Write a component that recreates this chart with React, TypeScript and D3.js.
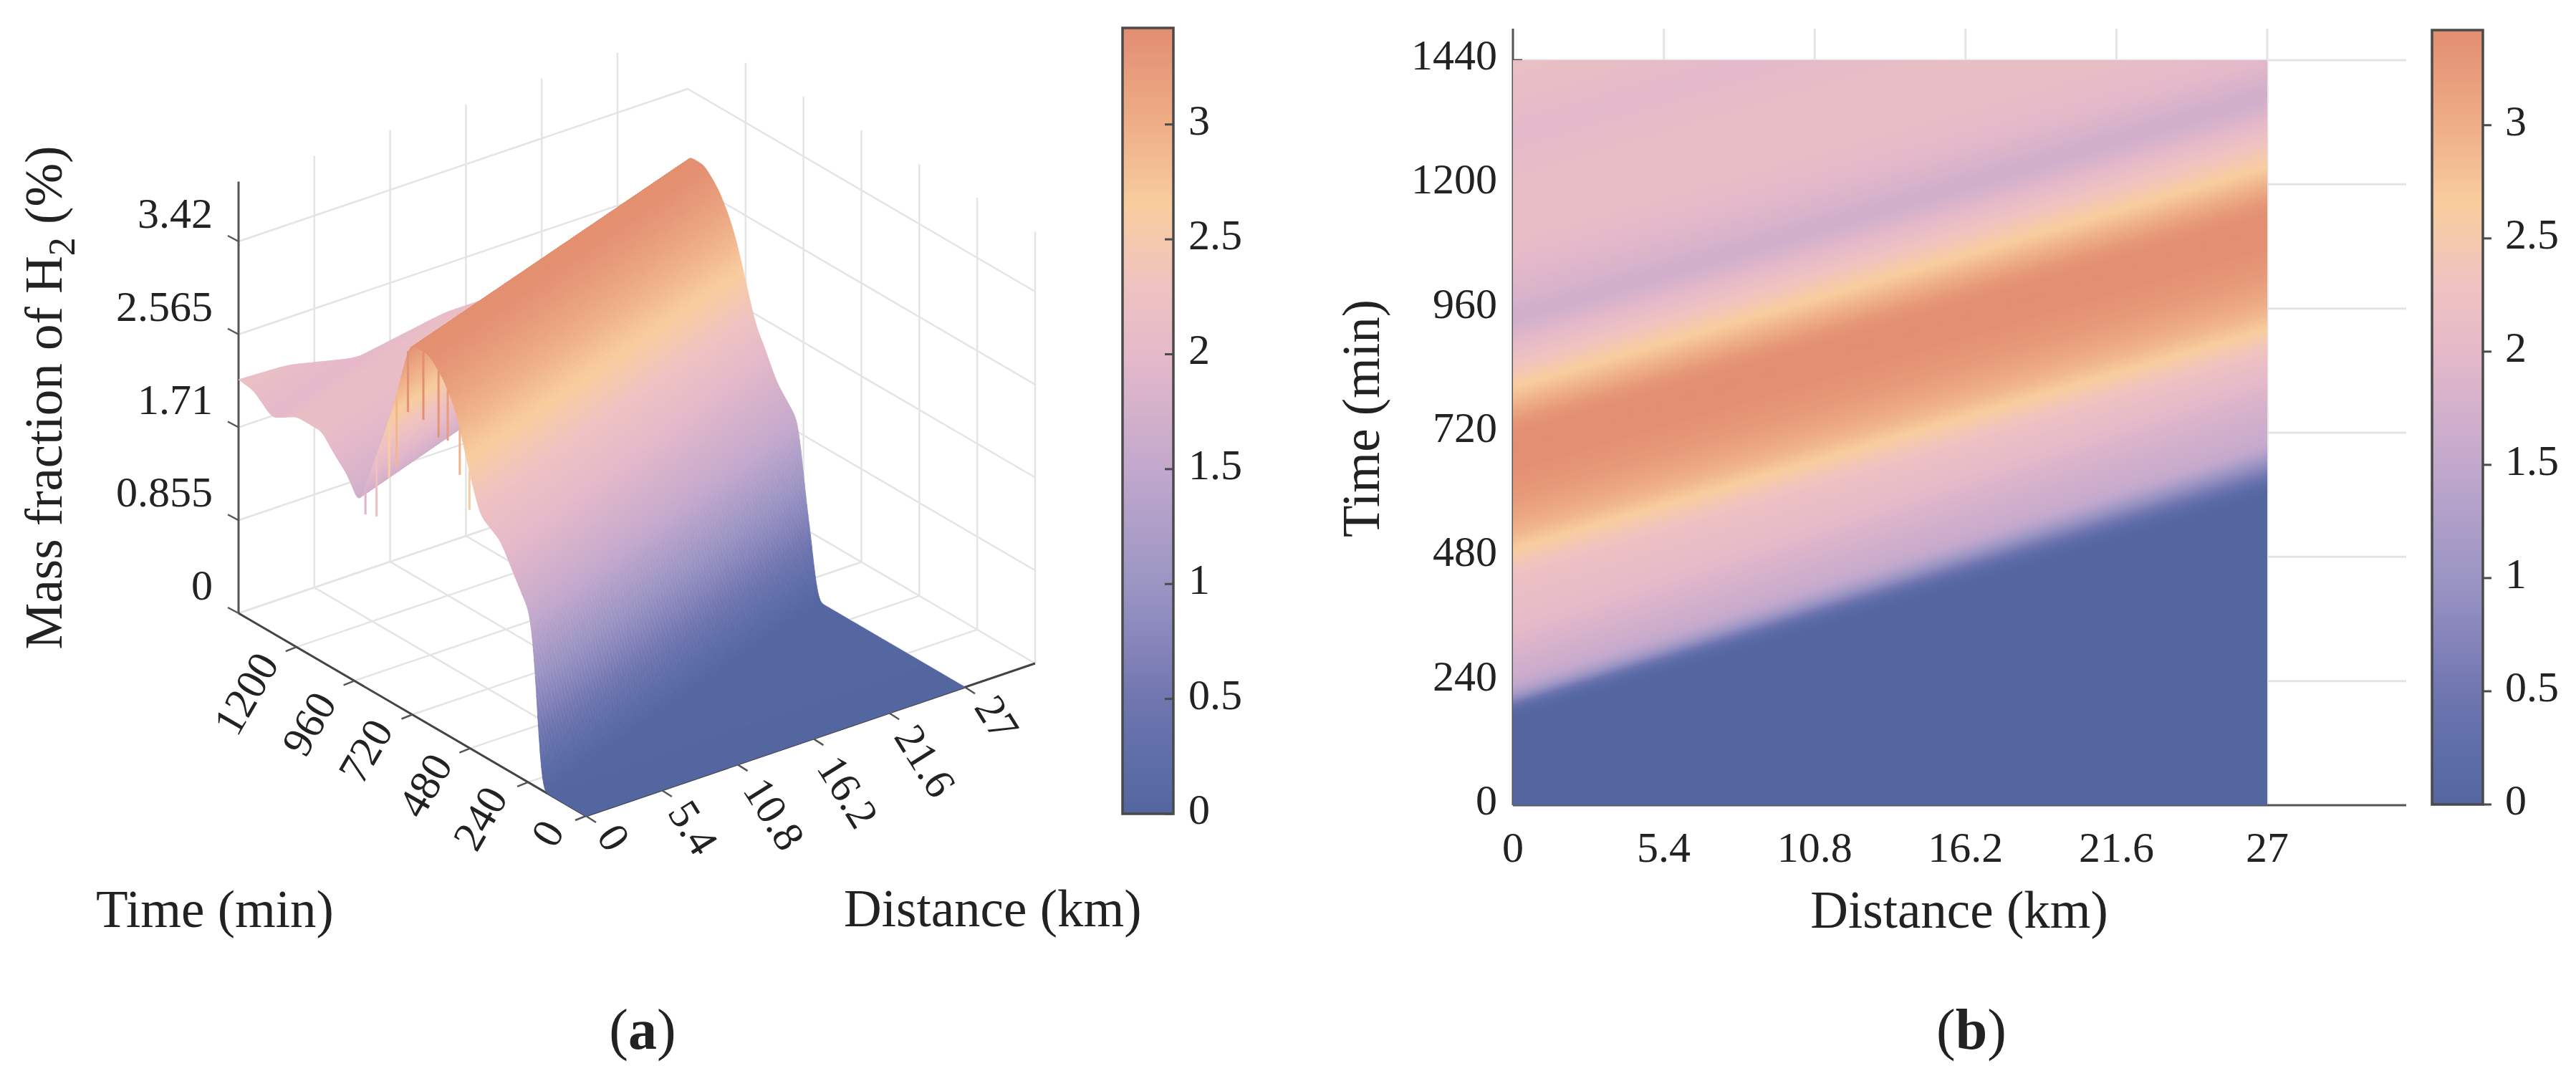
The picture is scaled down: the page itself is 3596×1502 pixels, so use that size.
import React, { useEffect, useRef } from "react";
import * as d3 from "d3";

// Axis ticks
const distanceTicks = [0, 5.4, 10.8, 16.2, 21.6, 27];
const distanceLabels = ["0", "5.4", "10.8", "16.2", "21.6", "27"];
const timeTicks3d = [0, 240, 480, 720, 960, 1200];
const timeTicks2d = [0, 240, 480, 720, 960, 1200, 1440];
const massTicks = [0, 0.855, 1.71, 2.565, 3.42];
const massLabels = ["0", "0.855", "1.71", "2.565", "3.42"];
const barTicks = [0, 0.5, 1, 1.5, 2, 2.5, 3];

// Colour bar
const colorStops = [0, 0.25, 0.5, 0.75, 1, 1.5, 2, 2.3, 2.645, 3, 3.42];
const colorHexes = ["#5466a0", "#5f6ea8", "#7076b0", "#8785bb", "#9a95c3", "#c2a8cd", "#e5b9c9", "#efc3c1", "#f8cd9e", "#eeae88", "#e28e70"];

// H2 wave: each level is reached at one time at 0 km and a later time at 27 km
const waveLevels = [0, 0.5, 1.0, 1.54, 1.8, 2.07, 2.2, 2.65, 2.88, 3.05, 3.25, 3.4, 3.4, 3.1, 2.65, 2.2, 1.9, 1.65, 1.85, 2.0, 2.12, 2.12, 1.98, 2.13, 2.15];
const waveTimeAt0km = [186, 196, 207, 226, 290, 353, 439, 497, 520, 545, 590, 650, 730, 760, 807, 867, 906, 940, 986, 1052, 1093, 1200, 1300, 1378, 1440];
const waveTimeAt27km = [612, 635, 667, 688, 782, 835, 867, 920, 948, 975, 1020, 1080, 1150, 1185, 1232, 1298, 1331, 1371, 1411, 1440, 1523, 1630, 1730, 1810, 1870];

// Numerical spikes on the 0 km edge of the surface
const spikeTimes = [914, 868, 816, 785, 738, 674, 611, 573, 523, 483];
const spikeBottoms = [1.59, 1.63, 2.05, 2.2, 2.76, 2.77, 2.69, 2.71, 2.46, 2.19];

const DIST_MAX = 27;
const TIME_MAX = 1440;
const FONT = "'Liberation Serif', serif";
const INK = "#222";
const GRID = "#e4e4e4";
const AXIS = "#555";

const color = d3.scaleLinear<string>().domain(colorStops).range(colorHexes).clamp(true);

const waveAt = (x: number) =>
  d3
    .scaleLinear()
    .domain(waveTimeAt0km.map((d, i) => d + ((waveTimeAt27km[i] - d) * x) / DIST_MAX))
    .range(waveLevels)
    .clamp(true);

// mesh shared by both panels, softened along time like the plot's interpolated shading
const meshX = d3.range(0, 109).map((i) => i * 0.25);
const meshT = d3.range(0, 289).map((i) => i * 5);
const nx = meshX.length;
const nt = meshT.length;
const flat: number[] = new Array(nx * nt);
meshX.forEach((x, i) => {
  const s = waveAt(x);
  meshT.forEach((t, j) => (flat[i + j * nx] = s(t)));
});
d3.blur2({ data: flat, width: nx, height: nt }, 0, 2);
const meshZ = (i: number, j: number) => flat[i + j * nx];

function App() {
  const ref = useRef<SVGSVGElement>(null);

  useEffect(() => {
    const svg = d3.select(ref.current);
    svg.selectAll("*").remove();

    const addText = (
      g: any,
      text: string,
      x: number,
      y: number,
      size: number,
      anchor = "start",
      rotate = 0
    ) =>
      g
        .append("text")
        .attr("transform", `translate(${x},${y}) rotate(${rotate})`)
        .attr("text-anchor", anchor)
        .attr("font-family", FONT)
        .attr("font-size", size)
        .attr("fill", INK)
        .text(text);

    const addLine = (g: any, p: number[], q: number[], stroke: string, w: number) =>
      g
        .append("line")
        .attr("x1", p[0])
        .attr("y1", p[1])
        .attr("x2", q[0])
        .attr("y2", q[1])
        .attr("stroke", stroke)
        .attr("stroke-width", w);

    // ---------- panel (a): 3D surface ----------
    const a = svg.append("g");
    const xPx = d3.scaleLinear().domain([0, 32]).range([0, 627]);
    const xPy = d3.scaleLinear().domain([0, 32]).range([0, -213]);
    const tPx = d3.scaleLinear().domain([0, 1440]).range([0, -485]);
    const tPy = d3.scaleLinear().domain([0, 1440]).range([0, -283]);
    const zPy = d3.scaleLinear().domain([0, 3.42]).range([0, -519]);
    const project = (x: number, t: number, z: number) => [
      818 + xPx(x) + tPx(t),
      1139 + xPy(x) + tPy(t) + zPy(z),
    ];
    const Z_TOP = 3.97;

    // floor and walls
    distanceTicks.forEach((x) => {
      addLine(a, project(x, 0, 0), project(x, 1440, 0), GRID, 2.5);
      if (x > 0) addLine(a, project(x, 1440, 0), project(x, 1440, Z_TOP), GRID, 2.5);
    });
    timeTicks2d.forEach((t) => {
      addLine(a, project(0, t, 0), project(32, t, 0), GRID, 2.5);
      if (t < 1440) addLine(a, project(32, t, 0), project(32, t, Z_TOP), GRID, 2.5);
    });
    massTicks.forEach((z) => {
      addLine(a, project(0, 1440, z), project(32, 1440, z), GRID, 2.5);
      addLine(a, project(32, 1440, z), project(32, 0, z), GRID, 2.5);
    });

    // axes
    addLine(a, project(0, 1440, 0), project(0, 1440, Z_TOP), AXIS, 3);
    addLine(a, project(0, 1440, 0), project(0, 0, 0), "#444", 3);
    addLine(a, project(0, 0, 0), project(32, 0, 0), "#444", 3);
    massTicks.forEach((z) => {
      const p = project(0, 1440, z);
      addLine(a, p, [p[0] - 15, p[1] - 8], AXIS, 2.5);
    });
    timeTicks3d.forEach((t) => {
      const p = project(0, t, 0);
      addLine(a, p, [p[0] - 15, p[1] + 6], AXIS, 2.5);
    });
    distanceTicks.forEach((x) => {
      const p = project(x, 0, 0);
      addLine(a, p, [p[0] + 14, p[1] + 9], AXIS, 2.5);
    });

    // surface, far corner first, quads of one colour merged into a path
    const surface = a.append("g");
    let batch = "";
    let batchColor = "";
    const flush = () => {
      if (!batch) return;
      surface
        .append("path")
        .attr("d", batch)
        .attr("fill", batchColor)
        .attr("stroke", batchColor)
        .attr("stroke-width", 0.9)
        .attr("stroke-linejoin", "round");
      batch = "";
    };
    for (let j = nt - 2; j >= 0; j--) {
      for (let i = nx - 2; i >= 0; i--) {
        const corners = [
          [i, j],
          [i + 1, j],
          [i + 1, j + 1],
          [i, j + 1],
        ];
        const zMean = d3.mean(corners, ([p, q]) => meshZ(p, q)) as number;
        const c = color(Math.round(zMean * 80) / 80);
        if (c !== batchColor) {
          flush();
          batchColor = c;
        }
        batch +=
          "M" +
          corners
            .map(([p, q]) => project(meshX[p], meshT[q], meshZ(p, q)).map((v) => v.toFixed(1)).join(","))
            .join("L") +
          "Z";
      }
    }
    flush();

    const edgeWave = waveAt(0);
    spikeTimes.forEach((t, i) => {
      const top = edgeWave(t);
      addLine(a, project(0, t, top), project(0, t, spikeBottoms[i]), color(top + 0.05), 3);
    });

    // tick labels
    massLabels.forEach((s, i) => addText(a, s, 297, project(0, 1440, massTicks[i])[1] - 19, 60, "end"));
    const timeLabelPos = [
      [764, 1163],
      [670, 1142],
      [593, 1096],
      [510, 1048],
      [431, 1010],
      [343, 968],
    ];
    timeTicks3d.forEach((t, i) =>
      addText(a, String(t), timeLabelPos[i][0], timeLabelPos[i][1], 60, "middle", -60).attr("dy", "0.34em")
    );
    const distLabelPos = [
      [857, 1169],
      [968, 1155],
      [1081, 1136],
      [1184, 1105],
      [1292, 1062],
      [1392, 1002],
    ];
    distanceLabels.forEach((s, i) =>
      addText(a, s, distLabelPos[i][0], distLabelPos[i][1], 60, "middle", 58).attr("dy", "0.34em")
    );

    // axis titles
    addText(a, "Time (min)", 134, 1294, 73);
    addText(a, "Distance (km)", 1178, 1293, 73);
    const yTitle = addText(a, "Mass fraction of H", 86, 555, 73, "middle", -90);
    yTitle.append("tspan").attr("dy", 18).attr("font-size", 52).text("2");
    yTitle.append("tspan").attr("dy", -18).text(" (%)");

    // ---------- panel (b): heat map ----------
    const b = svg.append("g");
    const x2 = d3.scaleLinear().domain([0, DIST_MAX]).range([2112, 3165]);
    const y2 = d3.scaleLinear().domain([0, TIME_MAX]).range([1124, 84]);
    const PLOT_RIGHT = 3359;
    const PLOT_TOP = 40;

    timeTicks2d.slice(1).forEach((t) => addLine(b, [2112, y2(t)], [PLOT_RIGHT, y2(t)], GRID, 3));
    distanceTicks.slice(1).forEach((x) => addLine(b, [x2(x), PLOT_TOP], [x2(x), y2(0)], GRID, 3));
    addLine(b, [2112, PLOT_TOP], [2112, y2(0)], AXIS, 3);
    addLine(b, [2112, y2(0)], [PLOT_RIGHT, y2(0)], AXIS, 3);
    addLine(b, [2112, y2(1440)], [2125, y2(1440)], AXIS, 3);

    svg
      .append("clipPath")
      .attr("id", "heat-clip")
      .append("rect")
      .attr("x", x2(0))
      .attr("y", y2(TIME_MAX))
      .attr("width", x2(DIST_MAX) - x2(0))
      .attr("height", y2(0) - y2(TIME_MAX));

    const heat = b.append("g").attr("clip-path", "url(#heat-clip)");
    heat
      .append("rect")
      .attr("x", x2(0))
      .attr("y", y2(TIME_MAX))
      .attr("width", x2(DIST_MAX) - x2(0))
      .attr("height", y2(0) - y2(TIME_MAX))
      .attr("fill", color(0));

    const thresholds = d3.range(1, 171).map((k) => k * 0.02);
    const bands = d3.contours().size([nx, nt]).smooth(true).thresholds(thresholds)(flat);
    const toPlot = d3.geoTransform({
      point(px: number, py: number) {
        (this as any).stream.point(x2((px - 0.5) * 0.25), y2((py - 0.5) * 5));
      },
    });
    const contourPath = d3.geoPath(toPlot);
    bands.forEach((band) => {
      heat
        .append("path")
        .attr("d", contourPath(band as any))
        .attr("fill", color(band.value + 0.01));
    });

    distanceLabels.forEach((s, i) => addText(b, s, x2(distanceTicks[i]), 1203, 60, "middle"));
    timeTicks2d.forEach((t) => addText(b, String(t), 2090, y2(t) + 13, 60, "end"));
    addText(b, "Distance (km)", 2735, 1295, 73, "middle");
    addText(b, "Time (min)", 1925, 584, 73, "middle", -90);

    // ---------- colour bars ----------
    const grad = svg
      .append("defs")
      .append("linearGradient")
      .attr("id", "bar-grad")
      .attr("x1", 0)
      .attr("y1", 1)
      .attr("x2", 0)
      .attr("y2", 0);
    colorStops.forEach((v, i) =>
      grad
        .append("stop")
        .attr("offset", v / 3.42)
        .attr("stop-color", colorHexes[i])
    );

    const drawBar = (left: number, right: number, top: number, bottom: number, tickDir: number) => {
      const scale = d3.scaleLinear().domain([0, 3.42]).range([bottom, top]);
      svg
        .append("rect")
        .attr("x", left)
        .attr("y", top)
        .attr("width", right - left)
        .attr("height", bottom - top)
        .attr("fill", "url(#bar-grad)")
        .attr("stroke", "#4a4a4a")
        .attr("stroke-width", 3.5);
      barTicks.forEach((v) => {
        addLine(svg, [right, scale(v)], [right + tickDir * 12, scale(v)], "#4a4a4a", 3);
        addText(svg, String(v), right + 22 - (tickDir < 0 ? 1 : -9), scale(v) + 14, 60);
      });
    };
    drawBar(1567, 1638, 39, 1136, -1);
    drawBar(3395, 3466, 42, 1123, 1);

    // ---------- panel captions ----------
    [
      ["a", 897],
      ["b", 2752],
    ].forEach(([letter, cx]) => {
      const cap = addText(svg, "(", cx as number, 1464, 80, "middle");
      cap.append("tspan").attr("font-weight", "bold").text(letter as string);
      cap.append("tspan").text(")");
    });
  }, []);

  return (
    <svg
      ref={ref}
      width={3596}
      height={1502}
      style={{ position: "absolute", left: 0, top: 0, background: "#fff", display: "block" }}
    />
  );
}

export default App;
